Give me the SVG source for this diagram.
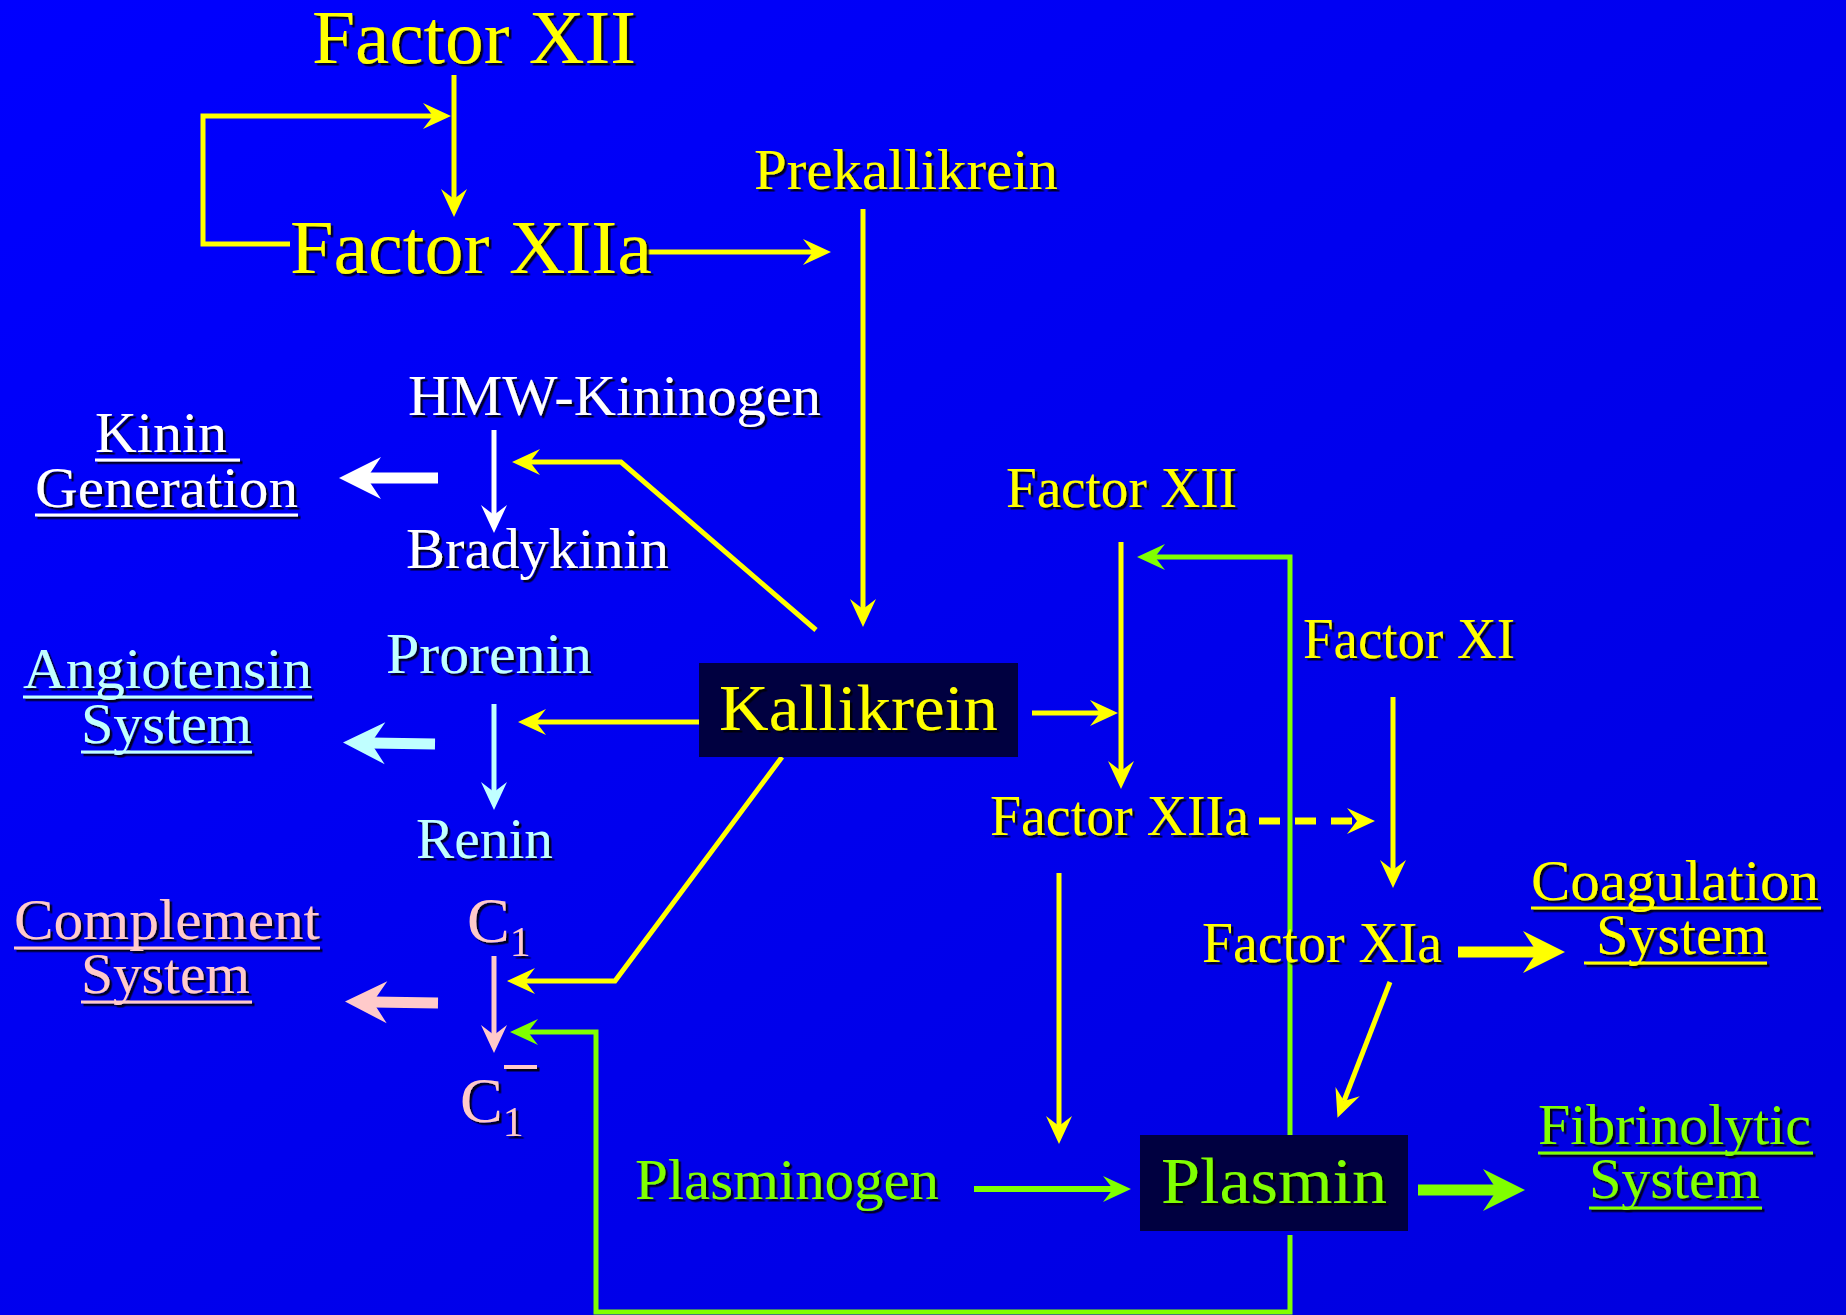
<svg xmlns="http://www.w3.org/2000/svg" width="1846" height="1315" viewBox="0 0 1846 1315">
<defs>
<linearGradient id="bg" x1="0" y1="0" x2="1" y2="1">
<stop offset="0" stop-color="#0000FF"/>
<stop offset="1" stop-color="#0000DE"/>
</linearGradient>
<filter id="sh" x="-5%" y="-10%" width="115%" height="130%">
<feDropShadow dx="2.5" dy="2.5" stdDeviation="0.4" flood-color="#000" flood-opacity="0.85"/>
</filter>
<marker id="ay" markerUnits="userSpaceOnUse" orient="auto" overflow="visible" refX="0" refY="0" markerWidth="1" markerHeight="1"><path d="M18,0 L-10,-13 L0,0 L-10,13 Z" fill="#FFFF00"/></marker>
<marker id="aw" markerUnits="userSpaceOnUse" orient="auto" overflow="visible" refX="0" refY="0" markerWidth="1" markerHeight="1"><path d="M18,0 L-10,-13 L0,0 L-10,13 Z" fill="#FFFFFF"/></marker>
<marker id="ac" markerUnits="userSpaceOnUse" orient="auto" overflow="visible" refX="0" refY="0" markerWidth="1" markerHeight="1"><path d="M18,0 L-10,-13 L0,0 L-10,13 Z" fill="#C0FFFF"/></marker>
<marker id="ap" markerUnits="userSpaceOnUse" orient="auto" overflow="visible" refX="0" refY="0" markerWidth="1" markerHeight="1"><path d="M18,0 L-10,-13 L0,0 L-10,13 Z" fill="#FFCACA"/></marker>
<marker id="ag" markerUnits="userSpaceOnUse" orient="auto" overflow="visible" refX="0" refY="0" markerWidth="1" markerHeight="1"><path d="M18,0 L-10,-13 L0,0 L-10,13 Z" fill="#80FF00"/></marker>
<marker id="Bw" markerUnits="userSpaceOnUse" orient="auto" overflow="visible" refX="0" refY="0" markerWidth="1" markerHeight="1"><path d="M28,0 L-14,-21 L0,0 L-14,21 Z" fill="#FFFFFF"/></marker>
<marker id="Bc" markerUnits="userSpaceOnUse" orient="auto" overflow="visible" refX="0" refY="0" markerWidth="1" markerHeight="1"><path d="M28,0 L-14,-21 L0,0 L-14,21 Z" fill="#C0FFFF"/></marker>
<marker id="Bp" markerUnits="userSpaceOnUse" orient="auto" overflow="visible" refX="0" refY="0" markerWidth="1" markerHeight="1"><path d="M28,0 L-14,-21 L0,0 L-14,21 Z" fill="#FFCACA"/></marker>
<marker id="By" markerUnits="userSpaceOnUse" orient="auto" overflow="visible" refX="0" refY="0" markerWidth="1" markerHeight="1"><path d="M28,0 L-14,-21 L0,0 L-14,21 Z" fill="#FFFF00"/></marker>
<marker id="Bg" markerUnits="userSpaceOnUse" orient="auto" overflow="visible" refX="0" refY="0" markerWidth="1" markerHeight="1"><path d="M28,0 L-14,-21 L0,0 L-14,21 Z" fill="#80FF00"/></marker>
</defs>
<style>
text { font-family: "Liberation Serif", "Times New Roman", serif; font-size: 57px; }
.big { font-size: 77px; }
.box { font-size: 66px; }
.y { fill: #FFFF00; }
.w { fill: #FFFFFF; }
.c { fill: #C0FFFF; }
.p { fill: #FFCACA; }
.g { fill: #80FF00; }
.node { filter: url(#sh); }
.ul { stroke-width: 3; }
.ly { stroke: #FFFF00; }
.lw { stroke: #FFFFFF; }
.lc { stroke: #C0FFFF; }
.lp { stroke: #FFCACA; }
.lg { stroke: #80FF00; }
.cn path, .cn line { fill: none; stroke-width: 5; stroke-linejoin: miter; }
.cn .thick { stroke-width: 11; }
.dark { fill: #000040; }
</style>
<rect x="0" y="0" width="1846" height="1315" fill="url(#bg)"/>

<g id="connectors" class="cn">
<line class="ly" x1="454" y1="75" x2="454" y2="199" marker-end="url(#ay)"/>
<path class="ly" d="M290,244 H203 V116 H433" marker-end="url(#ay)"/>
<line class="ly" x1="640" y1="252" x2="813" y2="252" marker-end="url(#ay)"/>
<line class="ly" x1="863" y1="209" x2="863" y2="609" marker-end="url(#ay)"/>
<path class="ly" d="M816,630 L621,462 H530" marker-end="url(#ay)"/>
<line class="lw" x1="494" y1="430" x2="494" y2="515" marker-end="url(#aw)"/>
<line class="lw thick" x1="438" y1="478" x2="367" y2="478" marker-end="url(#Bw)"/>
<line class="ly" x1="699" y1="722" x2="536" y2="722" marker-end="url(#ay)"/>
<line class="lc" x1="494" y1="704" x2="494" y2="792" marker-end="url(#ac)"/>
<line class="lc thick" x1="435" y1="744" x2="371" y2="743" marker-end="url(#Bc)"/>
<path class="ly" d="M782,757 L615,981 H525" marker-end="url(#ay)"/>
<line class="lp" x1="494" y1="956" x2="494" y2="1035" marker-end="url(#ap)"/>
<line class="lp thick" x1="438" y1="1003" x2="373" y2="1002" marker-end="url(#Bp)"/>
<path class="lg" d="M1290,1235 V1312 H596 V1032 H528" marker-end="url(#ag)"/>
<path class="lg" d="M1290,1135 V557 H1155" marker-end="url(#ag)"/>
<line class="ly" x1="1032" y1="713" x2="1100" y2="713" marker-end="url(#ay)"/>
<line class="ly" x1="1121" y1="542" x2="1121" y2="771" marker-end="url(#ay)"/>
<line class="ly" x1="1393" y1="697" x2="1393" y2="870" marker-end="url(#ay)"/>
<line class="ly" x1="1259" y1="821" x2="1357" y2="821" stroke-dasharray="21 15" style="stroke-width:7" marker-end="url(#ay)"/>
<line class="ly" x1="1059" y1="873" x2="1059" y2="1126" marker-end="url(#ay)"/>
<line class="ly" x1="1390" y1="982" x2="1344" y2="1101" marker-end="url(#ay)"/>
<line class="ly thick" x1="1458" y1="952" x2="1537" y2="952" marker-end="url(#By)"/>
<line class="lg" x1="974" y1="1189" x2="1113" y2="1189" style="stroke-width:6" marker-end="url(#ag)"/>
<line class="lg thick" x1="1418" y1="1190" x2="1497" y2="1190" marker-end="url(#Bg)"/>
</g>

<g id="factor-xii-top" class="node"><text class="big y" x="312" y="63" textLength="324" lengthAdjust="spacingAndGlyphs">Factor XII</text></g>
<g id="factor-xiia-top" class="node"><text class="big y" x="290" y="273" textLength="362" lengthAdjust="spacingAndGlyphs">Factor XIIa</text></g>
<g id="prekallikrein" class="node"><text class="y" x="754" y="189" textLength="304" lengthAdjust="spacingAndGlyphs">Prekallikrein</text></g>
<g id="hmw-kininogen" class="node"><text class="w" x="408" y="415" textLength="413" lengthAdjust="spacingAndGlyphs">HMW-Kininogen</text></g>
<g id="bradykinin" class="node"><text class="w" x="406" y="568" textLength="263" lengthAdjust="spacingAndGlyphs">Bradykinin</text></g>
<g id="kinin-generation" class="node">
<text class="w" x="95" y="452" textLength="132" lengthAdjust="spacingAndGlyphs">Kinin</text>
<line class="ul lw" x1="95" y1="460" x2="240" y2="460"/>
<text class="w" x="35" y="507" textLength="263" lengthAdjust="spacingAndGlyphs">Generation</text>
<line class="ul lw" x1="35" y1="515" x2="298" y2="515"/>
</g>
<g id="prorenin" class="node"><text class="c" x="386" y="673" textLength="206" lengthAdjust="spacingAndGlyphs">Prorenin</text></g>
<g id="angiotensin-system" class="node">
<text class="c" x="23" y="688" textLength="289" lengthAdjust="spacingAndGlyphs">Angiotensin</text>
<line class="ul lc" x1="23" y1="697" x2="312" y2="697"/>
<text class="c" x="81" y="743" textLength="171" lengthAdjust="spacingAndGlyphs">System</text>
<line class="ul lc" x1="81" y1="752" x2="252" y2="752"/>
</g>
<g id="kallikrein">
<rect class="dark" x="699" y="663" width="319" height="94"/>
<text class="box y node" x="719" y="730" textLength="279" lengthAdjust="spacingAndGlyphs">Kallikrein</text>
</g>
<g id="renin" class="node"><text class="c" x="416" y="858" textLength="137" lengthAdjust="spacingAndGlyphs">Renin</text></g>
<g id="complement-system" class="node">
<text class="p" x="14" y="939" textLength="306" lengthAdjust="spacingAndGlyphs">Complement</text>
<line class="ul lp" x1="14" y1="948" x2="320" y2="948"/>
<text class="p" x="81" y="993" textLength="169" lengthAdjust="spacingAndGlyphs">System</text>
<line class="ul lp" x1="81" y1="1002" x2="252" y2="1002"/>
</g>
<g id="c1" class="node"><text class="p" x="467" y="942" style="font-size:64px">C<tspan dy="14" style="font-size:42px">1</tspan></text></g>
<g id="c1-bar" class="node">
<text class="p" x="460" y="1122" style="font-size:64px">C<tspan dy="14" style="font-size:42px">1</tspan></text>
<line class="lp" x1="504" y1="1067" x2="537" y2="1067" stroke-width="4"/>
</g>
<g id="factor-xii-right" class="node"><text class="y" x="1006" y="507" textLength="231" lengthAdjust="spacingAndGlyphs">Factor XII</text></g>
<g id="factor-xi" class="node"><text class="y" x="1303" y="658" textLength="212" lengthAdjust="spacingAndGlyphs">Factor XI</text></g>
<g id="factor-xiia-right" class="node"><text class="y" x="990" y="835" textLength="259" lengthAdjust="spacingAndGlyphs">Factor XIIa</text></g>
<g id="factor-xia" class="node"><text class="y" x="1202" y="962" textLength="240" lengthAdjust="spacingAndGlyphs">Factor XIa</text></g>
<g id="coagulation-system" class="node">
<text class="y" x="1531" y="900" textLength="288" lengthAdjust="spacingAndGlyphs">Coagulation</text>
<line class="ul ly" x1="1531" y1="908" x2="1821" y2="908"/>
<text class="y" x="1596" y="954" textLength="171" lengthAdjust="spacingAndGlyphs">System</text>
<line class="ul ly" x1="1584" y1="963" x2="1767" y2="963"/>
</g>
<g id="plasminogen" class="node"><text class="g" x="635" y="1199" textLength="304" lengthAdjust="spacingAndGlyphs">Plasminogen</text></g>
<g id="plasmin">
<rect class="dark" x="1140" y="1135" width="268" height="96"/>
<text class="box g node" x="1161" y="1203" textLength="226" lengthAdjust="spacingAndGlyphs">Plasmin</text>
</g>
<g id="fibrinolytic-system" class="node">
<text class="g" x="1538" y="1144" textLength="273" lengthAdjust="spacingAndGlyphs">Fibrinolytic</text>
<line class="ul lg" x1="1538" y1="1153" x2="1813" y2="1153"/>
<text class="g" x="1589" y="1198" textLength="171" lengthAdjust="spacingAndGlyphs">System</text>
<line class="ul lg" x1="1589" y1="1208" x2="1762" y2="1208"/>
</g>
</svg>
